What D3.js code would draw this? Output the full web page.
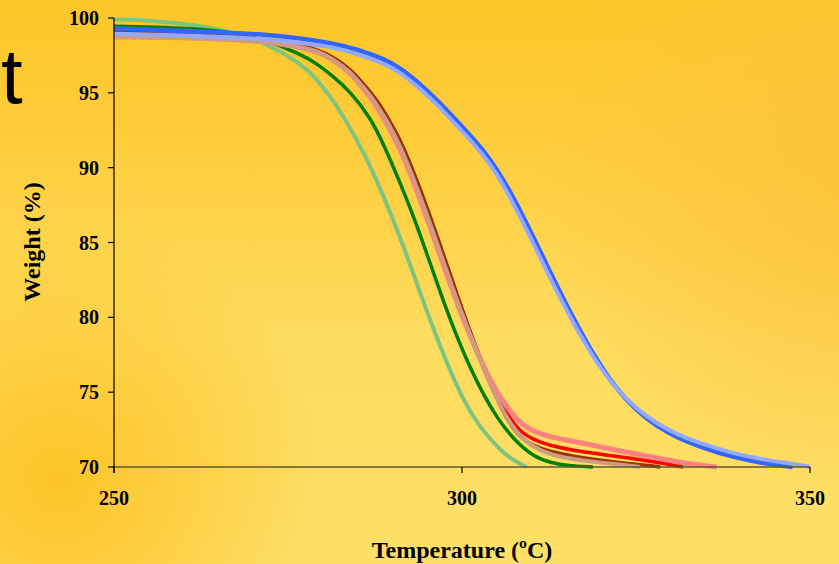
<!DOCTYPE html>
<html>
<head>
<meta charset="utf-8">
<script src="https://cdn.jsdelivr.net/npm/d3@7"></script>
<style>
  body { margin: 0; padding: 0; overflow: hidden; }
  svg { display: block; }
  .tick-label { font-family: "Liberation Serif", "Times New Roman", serif; font-weight: bold; font-size: 20px; fill: #000; }
  .axis-title { font-family: "Liberation Serif", "Times New Roman", serif; font-weight: bold; font-size: 24px; fill: #000; }
</style>
</head>
<body>
<svg width="839" height="564"></svg>
<script>
// tick values
var xTicks = [250, 300, 350];
var yTicks = [70, 75, 80, 85, 90, 95, 100];

// series: temperature (ºC) / weight (%) pairs
var lightGreenT = [250, 255, 262.4, 267.1, 272, 276.7, 279, 281.5, 283.5, 285.8, 288.5, 291.5, 294, 296.4, 298.5, 300.5, 302.5, 305.5, 307.5, 309.3];
var lightGreenW = [99.9, 99.85, 99.5, 99.05, 98.3, 97.0, 96.0, 94.5, 93.0, 91.1, 88.4, 84.9, 81.6, 78.6, 76.2, 74.2, 72.7, 71.1, 70.4, 70.0];

var darkGreenT = [250, 262.4, 267, 272, 276.7, 279, 281.5, 283.9, 286.8, 289, 291, 293, 295, 297, 299, 301, 303, 305, 307.5, 310.2, 313, 315.1, 318.8];
var darkGreenW = [99.45, 99.3, 99.0, 98.5, 97.6, 97.0, 96.1, 95.1, 93.4, 91.3, 89.1, 86.8, 84.2, 81.5, 79.0, 76.8, 74.9, 73.3, 71.8, 70.7, 70.25, 70.1, 70.0];

var redT = [250, 262.4, 272, 276, 279.2, 281.5, 283.9, 286, 287.8, 289.5, 291.1, 293.5, 296, 298.7, 301, 303.6, 305.5, 307.5, 309.3, 312.6, 317.4, 322.3, 327, 331.8];
var redW = [99.0, 98.9, 98.6, 98.25, 97.9, 97.4, 96.6, 95.5, 94.5, 93.2, 91.9, 89.2, 86.0, 82.3, 79.2, 76.1, 74.3, 72.8, 72.0, 71.4, 71.0, 70.7, 70.4, 70.0];

var brownT = [250, 262.4, 272, 276, 279.2, 281.5, 283.9, 286, 287.8, 289.5, 291.1, 293.5, 296, 298.7, 301, 303.6, 305.5, 307.5, 309.3, 312.6, 317.4, 322.3, 327, 328.5];
var brownW = [99.1, 99.0, 98.6, 98.25, 97.9, 97.4, 96.6, 95.5, 94.5, 93.2, 91.9, 89.2, 86.0, 82.3, 79.2, 76.1, 74.0, 72.4, 71.6, 71.0, 70.6, 70.3, 70.1, 70.0];

var pinkT = [250, 262.4, 272, 276, 279.2, 281.5, 283.9, 286, 287.8, 289.5, 291.1, 293.1, 295.6, 298.3, 300.6, 303.5, 305.5, 307.9, 310, 312.6, 317.4, 322.3, 327, 331.8, 336.6];
var pinkW = [98.8, 98.7, 98.45, 98.1, 97.8, 97.2, 96.4, 95.2, 94.1, 92.7, 91.3, 89.0, 85.8, 82.2, 79.3, 76.3, 74.6, 73.1, 72.4, 72.0, 71.6, 71.1, 70.7, 70.25, 70.0];

var tanT = [250, 262.4, 272, 276, 279.2, 281.5, 283.9, 286, 287.8, 289.5, 291.1, 293.2, 295.8, 298.5, 301, 303.3, 305.5, 307.9, 310, 312.6, 317.4, 322.3, 325.6];
var tanW = [98.7, 98.65, 98.4, 98.1, 97.8, 97.2, 96.4, 95.3, 94.2, 92.9, 91.5, 89.1, 85.8, 82.1, 79.0, 76.3, 74.0, 72.2, 71.4, 70.8, 70.4, 70.2, 70.0];

var blueT = [250, 262.4, 272, 276.7, 281.5, 285, 288.6, 291.1, 294.7, 297.5, 300.7, 303, 305, 307.3, 310, 313, 316, 319, 322, 325, 328, 331, 334.2, 338.9, 343.8, 347.5];
var blueW = [99.3, 99.1, 98.9, 98.65, 98.3, 97.9, 97.3, 96.7, 95.3, 94.0, 92.4, 91.2, 89.9, 88.1, 85.6, 82.7, 79.9, 77.4, 75.3, 73.8, 72.7, 71.95, 71.35, 70.65, 70.2, 70.0];

var lightBlueT = [250, 262.4, 272, 276.7, 281.5, 285, 288.6, 291.1, 294.7, 297.5, 300.7, 303, 305, 307.3, 310, 313, 316, 319, 322, 325, 328, 331, 334.2, 338.9, 343.8, 348.6, 350];
var lightBlueW = [98.95, 98.8, 98.6, 98.35, 98.05, 97.6, 97.0, 96.4, 95.0, 93.7, 92.1, 90.9, 89.6, 87.7, 85.2, 82.3, 79.6, 77.2, 75.3, 73.9, 72.9, 72.15, 71.6, 70.9, 70.45, 70.15, 70.0];

var series = [
    {t: lightGreenT, w: lightGreenW, color: "#7cc480", width: 4},
    {t: darkGreenT, w: darkGreenW, color: "#008000", width: 3.5},
    {t: redT, w: redW, color: "#ff0000", width: 3.5},
    {t: brownT, w: brownW, color: "#993300", width: 3.5},
    {t: pinkT, w: pinkW, color: "#ff8080", width: 5},
    {t: tanT, w: tanW, color: "#cc9c84", width: 4},
    {t: blueT, w: blueW, color: "#3366ff", width: 4.5},
    {t: lightBlueT, w: lightBlueW, color: "#92a9ff", width: 4}
];

var svg = d3.select("svg"),
    width = +svg.attr("width"),
    height = +svg.attr("height");

// background
var defs = svg.append("defs");
var bg1 = defs.append("linearGradient").attr("id", "bgv")
    .attr("x1", 0).attr("y1", 0).attr("x2", 0).attr("y2", 1);
bg1.append("stop").attr("offset", "0%").attr("stop-color", "#fdc628");
bg1.append("stop").attr("offset", "25%").attr("stop-color", "#fdcd3c");
bg1.append("stop").attr("offset", "60%").attr("stop-color", "#fedc5e");
bg1.append("stop").attr("offset", "100%").attr("stop-color", "#fee068");

var bg2 = defs.append("radialGradient").attr("id", "bgl")
    .attr("gradientUnits", "userSpaceOnUse")
    .attr("cx", 60).attr("cy", 480).attr("r", 260);
bg2.append("stop").attr("offset", "0%").attr("stop-color", "#fcc224").attr("stop-opacity", 0.95);
bg2.append("stop").attr("offset", "100%").attr("stop-color", "#fcc224").attr("stop-opacity", 0);

var bg3 = defs.append("radialGradient").attr("id", "bgr")
    .attr("gradientUnits", "userSpaceOnUse")
    .attr("cx", 860).attr("cy", 180).attr("r", 320);
bg3.append("stop").attr("offset", "0%").attr("stop-color", "#fbc23a").attr("stop-opacity", 0.9);
bg3.append("stop").attr("offset", "100%").attr("stop-color", "#fbc23a").attr("stop-opacity", 0);

svg.append("rect").attr("width", width).attr("height", height).attr("fill", "url(#bgv)");
svg.append("rect").attr("width", width).attr("height", height).attr("fill", "url(#bgl)");
svg.append("rect").attr("width", width).attr("height", height).attr("fill", "url(#bgr)");

// stray slide letter on the left
svg.append("text")
    .attr("x", 1).attr("y", 103)
    .style("font-family", "'Liberation Sans', Arial, sans-serif")
    .style("font-size", "78px")
    .text("t");

var x = d3.scaleLinear().domain([250, 350]).range([114, 810]);
var y = d3.scaleLinear().domain([70, 100]).range([467, 18]);

var line = d3.line()
    .x(function(d) { return x(d[0]); })
    .y(function(d) { return y(d[1]); })
    .curve(d3.curveBasis);

// curves
var gLines = svg.append("g");
series.forEach(function(s) {
    var pts = s.t.map(function(t, i) { return [t, s.w[i]]; });
    gLines.append("path")
        .attr("d", line(pts))
        .attr("fill", "none")
        .attr("stroke", s.color)
        .attr("stroke-width", s.width)
        .attr("stroke-linejoin", "round")
        .attr("stroke-linecap", "butt");
});

// x axis
var gx = svg.append("g");
gx.append("line")
    .attr("x1", x(250)).attr("x2", x(350))
    .attr("y1", y(70)).attr("y2", y(70))
    .attr("stroke", "#5e5630").attr("stroke-width", 1.5);
gx.selectAll(".xt").data(xTicks).enter().append("line")
    .attr("x1", function(d) { return x(d); }).attr("x2", function(d) { return x(d); })
    .attr("y1", y(70)).attr("y2", y(70) + 6)
    .attr("stroke", "#000").attr("stroke-width", 1.2);
gx.selectAll(".xl").data(xTicks).enter().append("text")
    .attr("class", "tick-label")
    .attr("x", function(d) { return x(d); })
    .attr("y", 505)
    .attr("text-anchor", "middle")
    .text(function(d) { return d; });

// y axis
var gy = svg.append("g");
gy.append("line")
    .attr("x1", x(250)).attr("x2", x(250))
    .attr("y1", y(100)).attr("y2", y(70) + 6)
    .attr("stroke", "#000").attr("stroke-width", 1.2);
gy.selectAll(".yt").data(yTicks).enter().append("line")
    .attr("x1", x(250) - 6).attr("x2", x(250))
    .attr("y1", function(d) { return y(d); }).attr("y2", function(d) { return y(d); })
    .attr("stroke", "#000").attr("stroke-width", 1.2);
gy.selectAll(".yl").data(yTicks).enter().append("text")
    .attr("class", "tick-label")
    .attr("x", 99)
    .attr("y", function(d) { return y(d); })
    .attr("dy", "0.35em")
    .attr("text-anchor", "end")
    .text(function(d) { return d; });

// axis titles
svg.append("text")
    .attr("class", "axis-title")
    .attr("x", 462).attr("y", 558)
    .attr("text-anchor", "middle")
    .text("Temperature (ºC)");

svg.append("text")
    .attr("class", "axis-title")
    .attr("transform", "translate(40,242) rotate(-90)")
    .attr("text-anchor", "middle")
    .text("Weight (%)");
</script>
</body>
</html>
